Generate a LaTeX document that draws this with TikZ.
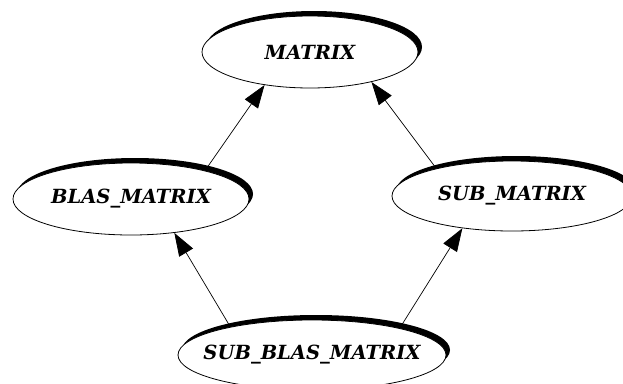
\documentclass[tikz,border=0pt]{standalone}
\usepackage{fontspec}
\setmainfont{DejaVu Serif}
\usetikzlibrary{shapes.geometric,shadows,arrows.meta}

\newcommand{\clsname}[1]{\makebox[0pt]{#1}}

\begin{document}
\begin{tikzpicture}[x=1pt, y=-1pt,
    cls/.style={ellipse, draw, line width=0.8pt, fill=white, inner sep=0pt,
        font=\fontsize{19.5}{24}\selectfont\bfseries\itshape,
        drop shadow={shadow xshift=4pt, shadow yshift=5pt, fill=black, opacity=1}},
    inh/.style={-{Triangle[length=23pt,width=16pt]}, line width=0.7pt}]
    \useasboundingbox (0,0) rectangle (623,383);
    \clip (0,0) rectangle (623,383);

    % classes
    \node[cls, minimum width=216pt, minimum height=72pt] (matrix) at (310,52) {\clsname{MATRIX}};
    \node[cls, minimum width=236pt, minimum height=72pt] (blas) at (131,199) {\clsname{BLAS\_MATRIX}};
    \node[cls, minimum width=240pt, minimum height=70pt] (sub) at (512,196) {\clsname{SUB\_MATRIX}};
    \node[cls, minimum width=268pt, minimum height=70pt] (subblas) at (312,355) {\clsname{SUB\_BLAS\_MATRIX}};

    % inheritance
    \draw[inh] (blas.21) -- (matrix.216);
    \draw[inh] (sub.160) -- (matrix.334);
    \draw[inh] (subblas.161) -- (blas.322);
    \draw[inh] (subblas.17) -- (sub.213);
\end{tikzpicture}
\end{document}
